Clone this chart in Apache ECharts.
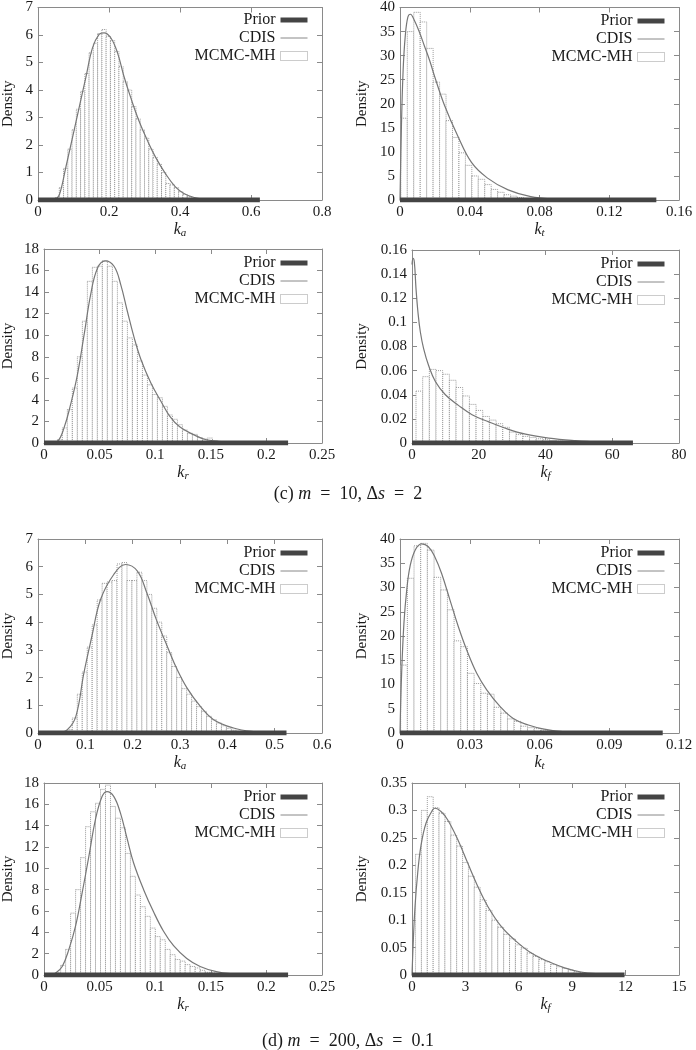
<!DOCTYPE html>
<html><head><meta charset="utf-8">
<script src="https://cdn.jsdelivr.net/npm/echarts@6/dist/echarts.min.js"></script>
<style>html,body{margin:0;padding:0;background:#fff}#c{width:696px;height:1050px}</style>
</head><body><div id="c"></div>
<script>
// ---------- data ----------
// (c) m = 10, Δs = 2
const ka10_binStart = 0.048, ka10_binWidth = 0.012;
const ka10_hist = [0.08,0.45,1.15,1.85,2.55,3.3,3.95,4.6,5.35,5.7,6.05,6.2,5.95,5.8,5.4,4.85,4.3,4.0,3.4,2.95,2.55,2.25,1.85,1.55,1.3,1.0,0.6,0.55,0.45,0.3,0.2,0.12,0.06,0.03];
const ka10_cdis = [[0.035,0],[0.048,0.03],[0.06,0.18],[0.0786,1.2],[0.0973,2.28],[0.116,3.37],[0.1347,4.45],[0.1535,5.53],[0.172,6.02],[0.186,6.08],[0.205,5.9],[0.224,5.35],[0.242,4.5],[0.261,3.73],[0.284,2.89],[0.308,2.17],[0.331,1.56],[0.359,0.96],[0.387,0.48],[0.411,0.24],[0.44,0.09],[0.47,0.03],[0.5,0.01],[0.55,0]];
const ka10_priorMax = 0.625;

const kt10_binStart = 0.0005, kt10_binWidth = 0.0037;
const kt10_hist = [17,35,39,37,31.5,24.5,22,16.5,13,9.8,7.2,5,4.3,3.2,2.2,1.6,1.1,0.8,0.5,0.3,0.2,0.1];
const kt10_cdis = [[0,0],[0.0008,15],[0.0018,27],[0.003,34],[0.0045,38],[0.006,38.6],[0.008,37.5],[0.011,35],[0.014,32],[0.017,29],[0.02,25.5],[0.0255,19.7],[0.033,13.4],[0.041,7.8],[0.05,4.6],[0.062,2.1],[0.075,0.7],[0.09,0.15],[0.1,0.03],[0.11,0]];
const kt10_priorMax = 0.147;

const kr10_binStart = 0.012, kr10_binWidth = 0.0045;
const kr10_hist = [0.3,1.4,3.1,5.1,8,11.3,15,16.3,16.4,16.9,16.4,15,13,11.3,9.75,9.1,7.6,6.3,5.4,4.5,4.2,3.4,2.6,2.2,1.7,1.2,0.9,0.8,0.5,0.37,0.46,0.2,0.1];
const kr10_cdis = [[0.005,0],[0.012,0.15],[0.018,1.4],[0.024,3.6],[0.03,6.3],[0.036,10],[0.042,13.8],[0.048,16.2],[0.055,16.9],[0.063,16.4],[0.069,14.7],[0.075,12.2],[0.081,9.8],[0.087,7.8],[0.096,5.6],[0.105,3.9],[0.113,2.5],[0.122,1.5],[0.134,0.8],[0.146,0.3],[0.164,0.1],[0.185,0]];
const kr10_priorMax = 0.2195;

const kf10_binStart = 1.2, kf10_binWidth = 2.0;
const kf10_hist = [0.043,0.055,0.061,0.060,0.057,0.052,0.046,0.039,0.032,0.027,0.022,0.019,0.016,0.013,0.009,0.007,0.0055,0.0045,0.0035,0.0027,0.002,0.0015,0.0012,0.0009,0.0006,0.0004];
const kf10_cdis = [[0,0.148],[0.3,0.153],[0.7,0.15],[1.2,0.128],[1.8,0.108],[2.5,0.092],[3.5,0.078],[5,0.064],[7,0.051],[10,0.04],[14,0.031],[18,0.0235],[23,0.0175],[28,0.0122],[34,0.0073],[41,0.004],[49,0.0019],[57,0.0006],[62,0.0002],[66,0]];
const kf10_priorMax = 66.2;

// (d) m = 200, Δs = 0.1
const ka200_binStart = 0.062, ka200_binWidth = 0.0105;
const ka200_hist = [0.12,0.54,1.4,2.2,3.1,3.9,4.8,5.4,5.45,5.5,6.1,6.15,5.5,5.5,5.8,5.5,5.0,4.5,4.0,3.5,2.9,2.4,2.0,1.6,1.4,1.15,0.95,0.78,0.6,0.48,0.36,0.26,0.17,0.1,0.06,0.04];
const ka200_cdis = [[0.041,0],[0.062,0.12],[0.08,0.6],[0.097,2.17],[0.114,3.5],[0.132,4.81],[0.16,5.72],[0.185,6.08],[0.21,5.84],[0.23,5.05],[0.25,4.09],[0.273,3.13],[0.294,2.29],[0.315,1.62],[0.343,0.96],[0.371,0.48],[0.413,0.18],[0.455,0.05],[0.504,0]];
const ka200_priorMax = 0.525;

const kt200_binStart = 0.0003, kt200_binWidth = 0.00287;
const kt200_hist = [14,31.9,38.6,39.1,37.7,32.1,29.5,25.4,19,17.8,12.3,10.2,8.2,8.0,5.3,4.1,2.9,2.4,1.4,1.1,0.9,0.6,0.45,0.3,0.2,0.12,0.06];
const kt200_cdis = [[0,0],[0.0007,12.3],[0.0017,22.7],[0.0029,29.5],[0.0043,34.3],[0.0065,37.7],[0.0093,39],[0.0122,38.4],[0.015,36.3],[0.0179,32.9],[0.0215,27.4],[0.0251,21.9],[0.0287,17.1],[0.033,12.3],[0.0373,8.9],[0.043,5.5],[0.0487,3.0],[0.0552,1.65],[0.062,0.8],[0.07,0.3],[0.08,0.08],[0.09,0]];
const kt200_priorMax = 0.113;

const kr200_binStart = 0.0105, kr200_binWidth = 0.00448;
const kr200_hist = [0.2,0.9,2.4,5.8,8,11,13.9,15.3,16.1,17.4,17.8,15.8,14.7,13.8,11.4,9.25,7.5,6.4,5.5,4.4,3.6,3.3,2.4,1.9,1.45,1.3,0.97,0.8,0.66,0.44,0.25,0.19,0.1];
const kr200_cdis = [[0.005,0],[0.0105,0.19],[0.0164,0.8],[0.0224,2.4],[0.0284,4.6],[0.0343,7.7],[0.0403,11.1],[0.0463,14.6],[0.0523,16.75],[0.0567,17.2],[0.0627,16.75],[0.0687,15.2],[0.0747,12.8],[0.0806,10.5],[0.0896,8.0],[0.0986,5.9],[0.1075,4.1],[0.1165,2.75],[0.1284,1.55],[0.1404,0.8],[0.155,0.31],[0.17,0.1],[0.188,0]];
const kr200_priorMax = 0.2195;

const kf200_binStart = 0.2, kf200_binWidth = 0.33;
const kf200_hist = [0.22,0.30,0.325,0.305,0.295,0.28,0.255,0.235,0.205,0.18,0.16,0.137,0.118,0.1,0.087,0.074,0.066,0.055,0.049,0.04,0.034,0.028,0.024,0.019,0.015,0.012,0.009,0.006,0.004,0.0025];
const kf200_cdis = [[0,0],[0.075,0.064],[0.17,0.125],[0.32,0.186],[0.5,0.235],[0.79,0.277],[1.16,0.301],[1.29,0.304],[1.63,0.298],[2.0,0.283],[2.57,0.247],[3.13,0.204],[3.69,0.162],[4.26,0.125],[5.0,0.089],[5.76,0.064],[6.7,0.04],[7.63,0.025],[8.57,0.013],[9.5,0.0055],[10.6,0.002],[11.75,0]];
const kf200_priorMax = 11.94;

// axis ticks: [max, interval]
const xTicks = [[0.8,0.2],[0.16,0.04],[0.25,0.05],[80,20],[0.6,0.1],[0.12,0.03],[0.25,0.05],[15,3]];
const yTicks = [[7,1],[40,5],[18,2],[0.16,0.02],[7,1],[40,5],[18,2],[0.35,0.05]];
const xSubs = ['a','t','r','f','a','t','r','f'];
const captions = ['(c) {i|m}\u2002=\u200210, Δ{i|s}\u2002=\u20022', '(d) {i|m}\u2002=\u2002200, Δ{i|s}\u2002=\u20020.1'];

const panels = [
  [ka10_binStart, ka10_binWidth, ka10_hist, ka10_cdis, ka10_priorMax],
  [kt10_binStart, kt10_binWidth, kt10_hist, kt10_cdis, kt10_priorMax],
  [kr10_binStart, kr10_binWidth, kr10_hist, kr10_cdis, kr10_priorMax],
  [kf10_binStart, kf10_binWidth, kf10_hist, kf10_cdis, kf10_priorMax],
  [ka200_binStart, ka200_binWidth, ka200_hist, ka200_cdis, ka200_priorMax],
  [kt200_binStart, kt200_binWidth, kt200_hist, kt200_cdis, kt200_priorMax],
  [kr200_binStart, kr200_binWidth, kr200_hist, kr200_cdis, kr200_priorMax],
  [kf200_binStart, kf200_binWidth, kf200_hist, kf200_cdis, kf200_priorMax]
];

// ---------- layout ----------
const layout = [
  {left:37, top:6, width:285, height:194, legendRight:386, nameX:8},
  {left:400, top:7, width:279, height:193, legendRight:29, nameX:363},
  {left:43, top:249, width:279, height:194, legendRight:386, nameX:8},
  {left:412, top:250, width:267, height:193, legendRight:29, nameX:363},
  {left:37, top:539, width:285, height:194, legendRight:386, nameX:8},
  {left:400, top:539, width:279, height:194, legendRight:29, nameX:363},
  {left:43, top:783, width:279, height:192, legendRight:386, nameX:8},
  {left:412, top:783, width:267, height:192, legendRight:29, nameX:363}
];
const captionTops = [480, 1027];

const FONT = '"Liberation Serif","DejaVu Serif",serif';
const FRAME = '#8a8a8a';
const TXT = '#1a1a1a';
const HIDE = {color:'rgba(0,0,0,0)', borderColor:'rgba(0,0,0,0)', borderWidth:0};

const option = {animation:false, backgroundColor:'#fff', title:[], grid:[], xAxis:[], yAxis:[], legend:[], series:[]};

captions.forEach((c,i)=>{
  option.title.push({text:c, left:'center', top:captionTops[i],
    textStyle:{fontFamily:FONT, fontSize:18, fontWeight:'normal', color:TXT,
      rich:{i:{fontFamily:FONT, fontSize:18, fontStyle:'italic', color:TXT}}}});
});

panels.forEach((p,i)=>{
  const [bStart, bWidth, hist, cdis, priorMax] = p;
  const g = layout[i];
  option.grid.push({left:g.left, top:g.top, width:g.width, height:g.height});
  const [xMax, xInt] = xTicks[i];
  const [yMax, yInt] = yTicks[i];
  const axLine = {show:true, onZero:false, lineStyle:{color:FRAME, width:1}};
  const axTick = {show:true, inside:true, length:5, lineStyle:{color:FRAME}};
  option.xAxis.push({type:'value', gridIndex:i, min:0, max:xMax, interval:xInt,
    axisLine:axLine, axisTick:axTick, splitLine:{show:false},
    axisLabel:{color:TXT, fontFamily:FONT, fontSize:15, margin:5},
    name:'{k|k}{s|' + xSubs[i] + '}', nameLocation:'middle', nameGap:20,
    nameTextStyle:{rich:{
      k:{fontFamily:FONT, fontStyle:'italic', fontSize:16, color:TXT},
      s:{fontFamily:FONT, fontStyle:'italic', fontSize:11, color:TXT, padding:[8,0,0,0]}}}});
  option.xAxis.push({type:'value', gridIndex:i, position:'top', min:0, max:xMax, interval:xInt,
    axisLine:axLine, axisTick:axTick, splitLine:{show:false}, axisLabel:{show:false}});
  option.yAxis.push({type:'value', gridIndex:i, min:0, max:yMax, interval:yInt,
    axisLine:axLine, axisTick:axTick, splitLine:{show:false},
    axisLabel:{color:TXT, fontFamily:FONT, fontSize:15, margin:5},
    name:'Density', nameLocation:'middle', nameGap: g.left - g.nameX - 7,
    nameTextStyle:{fontFamily:FONT, fontSize:15, color:TXT}});
  option.yAxis.push({type:'value', gridIndex:i, position:'right', min:0, max:yMax, interval:yInt,
    axisLine:axLine, axisTick:axTick, splitLine:{show:false}, axisLabel:{show:false}});

  option.legend.push({orient:'vertical', right:g.legendRight, top:g.top+6, align:'right', padding:0,
    itemWidth:27, itemHeight:9, itemGap:2, selectedMode:false,
    textStyle:{fontFamily:FONT, fontSize:16, color:TXT},
    data:[
      {name:'Prior', itemStyle:HIDE, lineStyle:{width:5, color:'#444'}},
      {name:'CDIS', itemStyle:HIDE, lineStyle:{width:1, color:'#888'}},
      {name:'MCMC-MH', icon:'rect', itemStyle:{color:'#fff', borderColor:'#999', borderWidth:1, borderType:[1,1]}}
    ]});

  const histData = hist.map((h,k)=>[bStart + k*bWidth, bStart + (k+1)*bWidth, h]);
  option.series.push({type:'custom', name:'MCMC-MH', xAxisIndex:2*i, yAxisIndex:2*i,
    itemStyle:{color:'#999'},
    data:histData, encode:{x:[0,1], y:2},
    renderItem:(params, api)=>{
      const p0 = api.coord([api.value(0), 0]);
      const p1 = api.coord([api.value(1), api.value(2)]);
      return {type:'rect', shape:{x:p0[0], y:p1[1], width:p1[0]-p0[0], height:p0[1]-p1[1]},
        style:{fill:'#fff', stroke:'#9a9a9a', lineWidth:1, lineDash:[1,1]}};
    }});
  option.series.push({type:'line', name:'CDIS', xAxisIndex:2*i, yAxisIndex:2*i,
    data:cdis, smooth:0.4, symbol:'none', lineStyle:{color:'#777', width:1.2}, itemStyle:{color:'#777'}, z:3});
  option.series.push({type:'line', name:'Prior', xAxisIndex:2*i, yAxisIndex:2*i,
    data:[[0,0],[priorMax,0]], symbol:'none', lineStyle:{color:'#444', width:5}, itemStyle:{color:'#444'}, z:4});
});

const chart = echarts.init(document.getElementById('c'), null, {renderer:'canvas'});
chart.setOption(option);
</script></body></html>
